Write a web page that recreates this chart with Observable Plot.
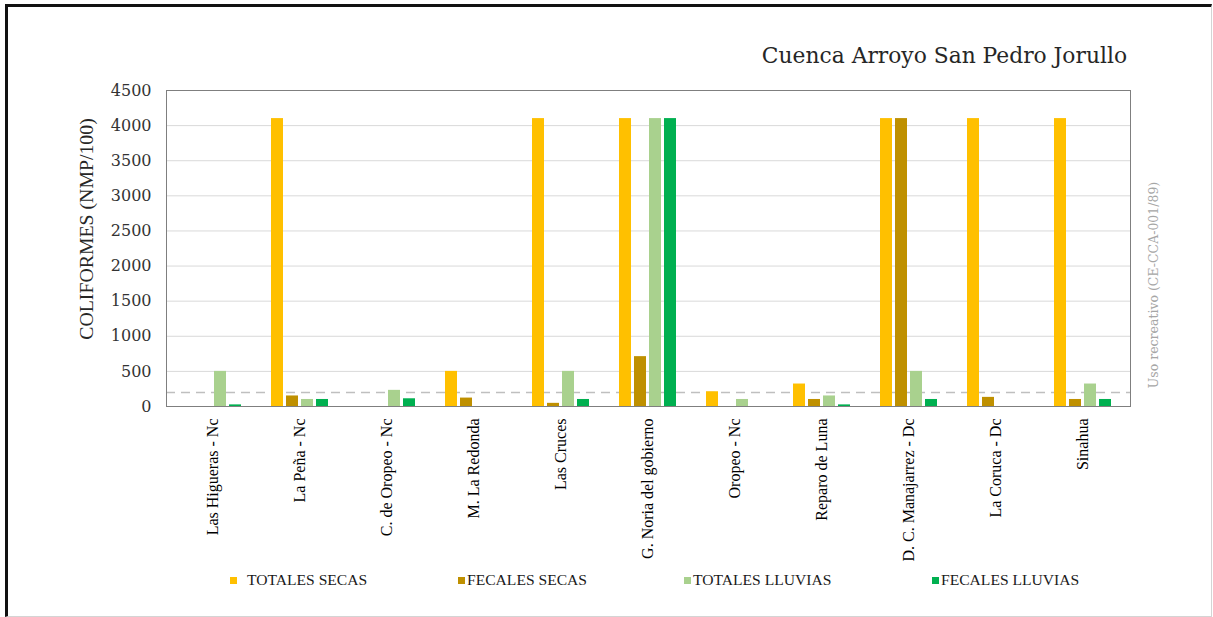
<!DOCTYPE html>
<html>
<head>
<meta charset="utf-8">
<script src="https://cdn.jsdelivr.net/npm/d3@7"></script>
<script src="https://cdn.jsdelivr.net/npm/@observablehq/plot@0.6"></script>
<style>
  body { margin: 0; background: #fff; }
  #chart { position: relative; width: 1213px; height: 617px; overflow: hidden; background: #fff; }
  #border { position: absolute; left: 5px; top: 4px; width: 1207px; height: 613px; box-sizing: border-box;
            border-top: 3px solid #111; border-left: 3px solid #111;
            border-right: 1px solid #d4d4d4; border-bottom: 1px solid #d4d4d4; pointer-events: none; }
  .layer { position: absolute; left: 0; top: 0; }
  .title { position: absolute; right: 86px; top: 43px; font-family: "DejaVu Serif", serif; font-size: 21.8px;
           color: #262626; white-space: nowrap; }
  .ylabel { position: absolute; left: 86px; top: 229px; transform: translate(-50%, -50%) rotate(-90deg);
            font-family: "Liberation Serif", "Times New Roman", serif; font-size: 19.8px; color: #262626; white-space: nowrap; }
  .rlabel { position: absolute; left: 1153px; top: 285px; transform: translate(-50%, -50%) rotate(-90deg);
            font-family: "DejaVu Serif", serif; font-size: 12.5px; color: #a6a6a6; white-space: nowrap; }
  .legend-item { position: absolute; top: 571px; height: 18px; display: flex; align-items: center;
                 font-family: "Liberation Serif", "Times New Roman", serif; font-size: 15.6px; color: #1a1a1a; white-space: nowrap; }
  .legend-item .sw { width: 7px; height: 7px; display: inline-block; flex: none; }
</style>
</head>
<body>
<div id="chart">
  <div id="grid" class="layer"></div>
  <div id="bars" class="layer"></div>
  <div id="edge" class="layer"></div>
  <div class="title">Cuenca Arroyo San Pedro Jorullo</div>
  <div class="ylabel">COLIFORMES (NMP/100)</div>
  <div class="rlabel">Uso recreativo (CE-CCA-001/89)</div>
  <div id="border"></div>
</div>
<script>
// Sampling sites along the basin
const sites = [
  "Las Higueras - Nc", "La Peña - Nc", "C. de Oropeo - Nc", "M. La Redonda", "Las Cruces",
  "G. Noria del gobierno", "Oropeo - Nc", "Reparo de Luna", "D. C. Manajarrez - Dc",
  "La Coruca - Dc", "Sinahua"
];

// Series (dry / rainy season, total / fecal coliforms)
const seriesNames = ["TOTALES SECAS", "FECALES SECAS", "TOTALES LLUVIAS", "FECALES LLUVIAS"];
const seriesColors = ["#FFC000", "#BF9000", "#A9D18E", "#00B050"];

// Coliform counts, NMP/100 ml (null = not measured)
const totalesSecas   = [null, 4100, null, 500, 4100, 4100, 210, 320, 4100, 4100, 4100];
const fecalesSecas   = [null, 150, null, 120, 45, 710, null, 100, 4100, 130, 100];
const totalesLluvias = [500, 100, 230, null, 500, 4100, 100, 150, 500, null, 320];
const fecalesLluvias = [23, 100, 110, null, 100, 4100, null, 23, 100, null, 100];

// Recreational-use limit (CE-CCA-001/89)
const limite = 200;

// Value axis ticks
const yTicks = [0, 500, 1000, 1500, 2000, 2500, 3000, 3500, 4000, 4500];

const seriesValues = [totalesSecas, fecalesSecas, totalesLluvias, fecalesLluvias];
const rows = [];
sites.forEach((site, i) => {
  seriesValues.forEach((values, j) => {
    if (values[i] != null) rows.push({site, serie: seriesNames[j], value: values[i]});
  });
});

// Shared frame geometry for all layers
const frame = {
  width: 1213, height: 565,
  marginTop: 90, marginBottom: 159, marginLeft: 166, marginRight: 83,
  style: {background: "transparent", color: "#262626", overflow: "visible"}
};

// Background layer: gridlines, limit line and value axis
const background = Plot.plot({
  ...frame,
  y: {domain: [0, 4500], label: null},
  marks: [
    Plot.ruleY(yTicks.slice(1), {stroke: "#d9d9d9", strokeWidth: 1}),
    Plot.ruleY([limite], {stroke: "#bfbfbf", strokeWidth: 1.5, strokeDasharray: "9,6"}),
    Plot.axisY({ticks: yTicks, tickFormat: (d) => String(d), tickSize: 0, tickPadding: 15,
                fontSize: 16, fontFamily: "DejaVu Serif", fill: "#333", label: null})
  ]
});

// Middle layer: grouped bars per site
const bars = Plot.plot({
  ...frame,
  fx: {domain: sites, paddingInner: 0.25, paddingOuter: 0.13, label: null},
  x: {domain: seriesNames, padding: 0.18, axis: null},
  y: {domain: [0, 4500], axis: null},
  color: {domain: seriesNames, range: seriesColors},
  marks: [
    Plot.barY(rows, {fx: "site", x: "serie", y: "value", fill: "serie"}),
    Plot.axisFx({anchor: "bottom", tickRotate: -90, tickSize: 0, tickPadding: 12, fontSize: 16,
                 fontFamily: "Liberation Serif", fill: "#000", label: null})
  ]
});

// Top layer: plot border over the bars
const edge = Plot.plot({
  ...frame,
  marks: [Plot.frame({stroke: "#7f7f7f"})]
});

document.getElementById("grid").append(background);
document.getElementById("bars").append(bars);
document.getElementById("edge").append(edge);

// Legend
const legendLeft = [230, 458, 684, 932];
const legendGap = [10, 2, 2, 2];
const chartEl = document.getElementById("chart");
seriesNames.forEach((name, i) => {
  const item = document.createElement("div");
  item.className = "legend-item";
  item.style.left = legendLeft[i] + "px";
  const sw = document.createElement("span");
  sw.className = "sw";
  sw.style.background = seriesColors[i];
  sw.style.marginRight = legendGap[i] + "px";
  const label = document.createElement("span");
  label.textContent = name;
  item.append(sw, label);
  chartEl.append(item);
});
</script>
</body>
</html>
